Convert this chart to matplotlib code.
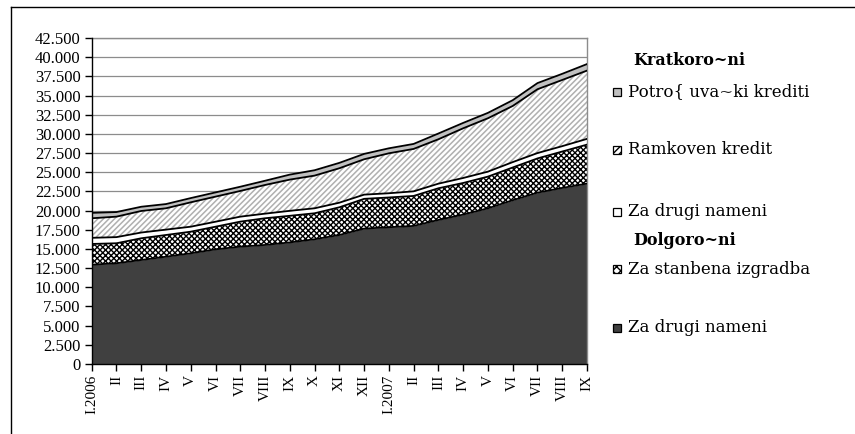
import numpy as np
import matplotlib
matplotlib.use('Agg')
import matplotlib.pyplot as plt
from matplotlib.patches import Rectangle
from matplotlib.lines import Line2D
from matplotlib.ticker import FuncFormatter, MultipleLocator

months = ['I.2006', 'II', 'III', 'IV', 'V', 'VI', 'VII', 'VIII', 'IX', 'X', 'XI', 'XII',
          'I.2007', 'II', 'III', 'IV', 'V', 'VI', 'VII', 'VIII', 'IX']

# Dolgoro~ni - Za drugi nameni
long_other = [12950, 13130, 13560, 13990, 14430, 14950, 15300, 15520, 15850, 16260, 16820,
              17650, 17830, 18000, 18780, 19480, 20300, 21350, 22340, 22950, 23520]
# Dolgoro~ni - Za stanbena izgradba
long_housing = [2700, 2610, 2830, 2830, 2820, 2950, 3260, 3480, 3470, 3390, 3610,
                3880, 3880, 3910, 4130, 4120, 4130, 4270, 4460, 4750, 5080]
# Kratkoro~ni - Za drugi nameni
short_other = [800, 800, 750, 700, 650, 650, 650, 600, 650, 650, 600,
               550, 550, 600, 600, 650, 650, 700, 700, 700, 750]
# Kratkoro~ni - Ramkoven kredit
framework = [2550, 2670, 2810, 2780, 3180, 3270, 3350, 3740, 4070, 4260, 4490,
             4610, 5210, 5530, 5790, 6480, 6960, 7320, 8320, 8630, 8900]
# Kratkoro~ni - Potro{uva~ki krediti
consumer = [700, 600, 550, 550, 550, 550, 550, 550, 650, 700, 700,
            700, 650, 650, 750, 700, 700, 750, 800, 800, 850]

W, H = 855, 434
fig = plt.figure(figsize=(W / 100, H / 100), dpi=100)
fig.patch.set_facecolor('white')

def fx(px):
    return px / W

def fy(py):
    return 1 - py / H

ax = fig.add_axes([fx(91.7), fy(364), fx(587) - fx(91.7), fy(38) - fy(364)])

x = np.arange(len(months))
layers = [
    dict(vals=long_other, face='#404040', hatch=None, hcol='#404040', hlw=1.0),
    dict(vals=long_housing, face='white', hatch='xxxxxx', hcol='black', hlw=1.0),
    dict(vals=short_other, face='white', hatch=None, hcol='white', hlw=1.0),
    dict(vals=framework, face='white', hatch='//////', hcol='#b0b0b0', hlw=1.1),
    dict(vals=consumer, face='#c0c0c0', hatch=None, hcol='#c0c0c0', hlw=1.0),
]

base = np.zeros(len(months))
for L in layers:
    top = base + np.array(L['vals'], dtype=float)
    plt.rcParams['hatch.linewidth'] = L['hlw']
    ax.fill_between(x, base, top, facecolor=L['face'], hatch=L['hatch'],
                    edgecolor=L['hcol'], linewidth=0, zorder=2)
    ax.plot(x, top, color='black', lw=1.3, zorder=3, solid_joinstyle='round')
    base = top

ax.set_xlim(0, len(months) - 1)
ax.set_ylim(0, 42500)
ax.yaxis.set_major_locator(MultipleLocator(2500))
ax.yaxis.set_major_formatter(FuncFormatter(lambda v, p: f'{int(v):,}'.replace(',', '.')))
ax.set_xticks(x)
ax.set_xticklabels(months, rotation=90)
ax.grid(axis='y', color='#8c8c8c', lw=0.9, zorder=0)
ax.set_axisbelow(True)

for s in ['top', 'right']:
    ax.spines[s].set_color('#8c8c8c')
    ax.spines[s].set_linewidth(1.0)
for s in ['left', 'bottom']:
    ax.spines[s].set_color('black')
    ax.spines[s].set_linewidth(1.0)
    ax.spines[s].set_zorder(5)

ax.tick_params(axis='both', direction='out', length=5, width=1, color='black', pad=3)
for lab in ax.get_yticklabels():
    lab.set_fontfamily('Liberation Serif')
    lab.set_fontsize(12)
for lab in ax.get_xticklabels():
    lab.set_fontfamily('Liberation Serif')
    lab.set_fontsize(11)

# Legend (manual, Excel-like layout)
legend_items = [
    ('Potro{ uva~ki krediti', 91.7, '#c0c0c0', None),
    ('Ramkoven kredit', 150, 'white', '/////'),
    ('Za drugi nameni', 212, 'white', None),
    ('Za stanbena izgradba', 269, 'white', 'xxxx'),
    ('Za drugi nameni', 328, '#404040', None),
]
headers = [('Kratkoro~ni', 60.7), ('Dolgoro~ni', 240)]

for txt, yy in headers:
    fig.text(fx(633), fy(yy), txt, fontfamily='DejaVu Serif', fontweight='bold',
             fontsize=11.5, va='center', ha='left')

plt.rcParams['hatch.linewidth'] = 1.0
for txt, yy, fc, hatch in legend_items:
    r = Rectangle((fx(613), fy(yy + 4)), fx(8), 8 / H, transform=fig.transFigure,
                  facecolor=fc, hatch=hatch, edgecolor='black', linewidth=0.9)
    fig.patches.append(r)
    fig.text(fx(628), fy(yy), txt, fontfamily='DejaVu Serif', fontsize=12,
             va='center', ha='left')

# outer frame lines
fig.lines.append(Line2D([fx(10.5), 1], [fy(7), fy(7)], transform=fig.transFigure,
                        color='black', lw=1.0))
fig.lines.append(Line2D([fx(10.5), fx(10.5)], [0, fy(7)], transform=fig.transFigure,
                        color='black', lw=1.0))

fig.savefig('out.png', dpi=100, facecolor='white')
